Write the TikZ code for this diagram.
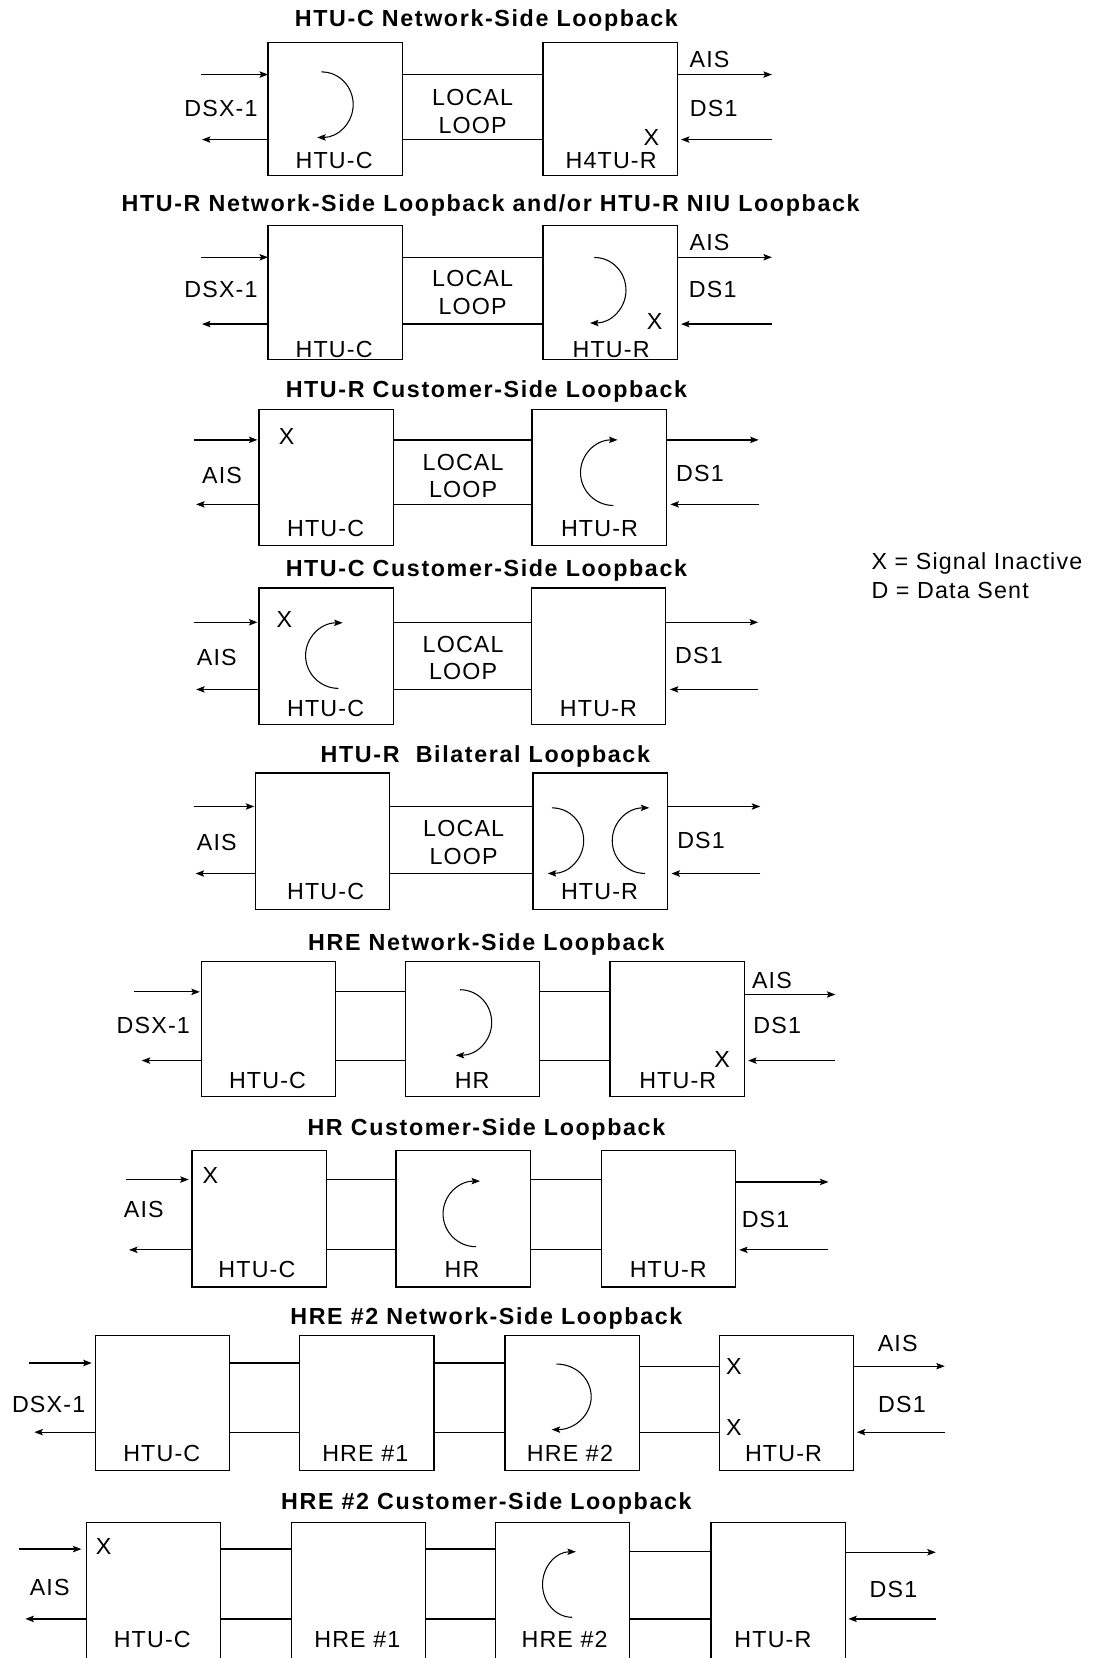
\documentclass[tikz,border=0pt]{standalone}
\usepackage{fontspec}
\setmainfont{Liberation Sans}
\newfontfamily\mylbfam[LetterSpace=5]{Liberation Sans}
\newfontfamily\myttfam[LetterSpace=7]{Liberation Sans}
\newcommand\mylbf{\mylbfam\fontsize{22}{26}\selectfont}
\newcommand\myttf{\myttfam\bfseries\fontsize{22}{26}\selectfont}
\usetikzlibrary{arrows.meta}
\tikzset{
  box/.style={draw, line width=1.2pt, minimum width=127pt, minimum height=128pt, inner sep=0pt, outer sep=0pt},
  lbl/.style={font=\mylbf, inner sep=0pt, anchor=base, yshift=-7.8pt},
  lgd/.style={font=\mylbf, inner sep=0pt, anchor=base west, yshift=-7.8pt},
  ttl/.style={font=\myttf, inner sep=0pt, anchor=base, yshift=-7.9pt},
  ln/.style={line width=1.2pt},
  sig/.style={line width=1.2pt, -{Stealth[length=8pt,width=6pt,inset=1.5pt]}},
  lp/.style={line width=1pt, -{Stealth[length=8pt,width=6pt,inset=1.5pt]}},
  loopR/.pic={\draw[lp] (1,-31) .. controls (18,-31) and (31,-17) .. (31,0) .. controls (31,17) and (17,31) .. (-3,31);},
  loopL/.pic={\draw[lp] (0,31) .. controls (-17,31) and (-31,17) .. (-31,0) .. controls (-31,-17) and (-17,-31) .. (4,-31);}
}
\begin{document}
\begin{tikzpicture}[x=1pt,y=-1pt]
\useasboundingbox (0,0) rectangle (1041,1568);

% ================= Panel 1
\node[ttl] (t1) at (460,17.6) {HTU-C Network-Side Loopback};
\node[box, minimum height=126pt] (a1) at (317,103) {};
\node[box, minimum height=126pt] (a2) at (577,103) {};
\coordinate (a-inl) at (190,70.5);
\coordinate (a-outl) at (191,132);
\coordinate (a-outr) at (730,70.5);
\coordinate (a-inr) at (730,132);
\draw[sig] (a-inl) -- (a1.west |- a-inl);
\draw[sig] (a1.west |- a-outl) -- (a-outl);
\draw[ln] (a1.east |- a-inl) -- (a2.west |- a-inl);
\draw[ln] (a1.east |- a-outl) -- (a2.west |- a-outl);
\draw[sig] (a2.east |- a-outr) -- (a-outr);
\draw[sig] (a-inr) -- ([xshift=3.5pt]a2.east |- a-inr);
\node[lbl] (a-dsx) at (209,102) {DSX-1};
\node[lbl] (a-ais) at (671,56) {AIS};
\node[lbl] (a-ds1) at (675,102) {DS1};
\node[lbl] (a-loc) at (447,92) {LOCAL};
\node[lbl] (a-lop) at (447,118) {LOOP};
\node[lbl] (a-l1) at (316,152) {HTU-C};
\node[lbl] (a-l2) at (578,152) {H4TU-R};
\node[lbl] (a-x) at (616,130) {X};
\pic at (303,99) {loopR};

% ================= Panel 2
\node[ttl] (t2) at (464,192.5) {HTU-R Network-Side Loopback and/or HTU-R NIU Loopback};
\node[box, minimum height=127pt] (b1) at (317,276.5) {};
\node[box, minimum height=127pt] (b2) at (577,276.5) {};
\coordinate (b-inl) at (190,243.3);
\coordinate (b-outl) at (191,306.5);
\coordinate (b-outr) at (730,243.3);
\coordinate (b-inr) at (730,306.5);
\draw[sig] (b-inl) -- (b1.west |- b-inl);
\draw[sig] (b1.west |- b-outl) -- (b-outl);
\draw[ln] (b1.east |- b-inl) -- (b2.west |- b-inl);
\draw[ln] (b1.east |- b-outl) -- (b2.west |- b-outl);
\draw[sig] (b2.east |- b-outr) -- (b-outr);
\draw[sig] (b-inr) -- ([xshift=3.5pt]b2.east |- b-inr);
\node[lbl] (b-dsx) at (209,273.5) {DSX-1};
\node[lbl] (b-ais) at (671,229.5) {AIS};
\node[lbl] (b-ds1) at (674,273.5) {DS1};
\node[lbl] (b-loc) at (447,263.5) {LOCAL};
\node[lbl] (b-lop) at (447,290) {LOOP};
\node[lbl] (b-l1) at (316,330.5) {HTU-C};
\node[lbl] (b-l2) at (578,330.5) {HTU-R};
\node[lbl] (b-x) at (619,304) {X};
\pic at (561,274.5) {loopR};

% ================= Panel 3
\node[ttl] (t3) at (460,368) {HTU-R Customer-Side Loopback};
\node[box, minimum height=129pt] (c1) at (308.5,451.5) {};
\node[box, minimum height=129pt] (c2) at (566.5,451.5) {};
\coordinate (c-inl) at (183.5,416);
\coordinate (c-outl) at (185.5,477);
\coordinate (c-outr) at (717.5,416);
\coordinate (c-inr) at (717.5,477);
\draw[sig] (c-inl) -- ([xshift=-1.5pt]c1.west |- c-inl);
\draw[sig] (c1.west |- c-outl) -- (c-outl);
\draw[ln] (c1.east |- c-inl) -- (c2.west |- c-inl);
\draw[ln] (c1.east |- c-outl) -- (c2.west |- c-outl);
\draw[sig] (c2.east |- c-outr) -- (c-outr);
\draw[sig] (c-inr) -- ([xshift=4pt]c2.east |- c-inr);
\node[lbl] (c-ais) at (210,449.5) {AIS};
\node[lbl] (c-ds1) at (662,447.5) {DS1};
\node[lbl] (c-loc) at (438,437) {LOCAL};
\node[lbl] (c-lop) at (438,463) {LOOP};
\node[lbl] (c-l1) at (308,500) {HTU-C};
\node[lbl] (c-l2) at (567,500) {HTU-R};
\node[lbl] (c-x) at (271,413) {X};
\pic at (580,447) {loopL};

% ================= Panel 4
\node[ttl] (t4) at (460,537) {HTU-C Customer-Side Loopback};
\node[box, minimum height=129pt] (d1) at (308.5,620.5) {};
\node[box, minimum height=129pt] (d2) at (566,620.5) {};
\coordinate (d-inl) at (183.5,588.5);
\coordinate (d-outl) at (185.5,652);
\coordinate (d-outr) at (717,588.5);
\coordinate (d-inr) at (717,652);
\draw[sig] (d-inl) -- ([xshift=-1.5pt]d1.west |- d-inl);
\draw[sig] (d1.west |- d-outl) -- (d-outl);
\draw[ln] (d1.east |- d-inl) -- (d2.west |- d-inl);
\draw[ln] (d1.east |- d-outl) -- (d2.west |- d-outl);
\draw[sig] (d2.east |- d-outr) -- (d-outr);
\draw[sig] (d-inr) -- ([xshift=4pt]d2.east |- d-inr);
\node[lbl] (d-ais) at (205,622) {AIS};
\node[lbl] (d-ds1) at (661,620) {DS1};
\node[lbl] (d-loc) at (438,609) {LOCAL};
\node[lbl] (d-lop) at (438,635) {LOOP};
\node[lbl] (d-l1) at (308,669.5) {HTU-C};
\node[lbl] (d-l2) at (566,669.5) {HTU-R};
\node[lbl] (d-x) at (269,586) {X};
\pic at (320,620) {loopL};

% ================= Panel 5
\node[ttl] (t5) at (459,713) {HTU-R\ \ Bilateral Loopback};
\node[box, minimum height=129pt] (e1) at (305,795.5) {};
\node[box, minimum height=129pt] (e2) at (567.5,795.5) {};
\coordinate (e-inl) at (183,762.7);
\coordinate (e-outl) at (185,826.1);
\coordinate (e-outr) at (719,762.7);
\coordinate (e-inr) at (719,826.1);
\draw[sig] (e-inl) -- ([xshift=-1pt]e1.west |- e-inl);
\draw[sig] (e1.west |- e-outl) -- (e-outl);
\draw[ln] (e1.east |- e-inl) -- (e2.west |- e-inl);
\draw[ln] (e1.east |- e-outl) -- (e2.west |- e-outl);
\draw[sig] (e2.east |- e-outr) -- (e-outr);
\draw[sig] (e-inr) -- ([xshift=4pt]e2.east |- e-inr);
\node[lbl] (e-ais) at (205,796.5) {AIS};
\node[lbl] (e-ds1) at (663,794.5) {DS1};
\node[lbl] (e-loc) at (438.5,783) {LOCAL};
\node[lbl] (e-lop) at (438.5,809.5) {LOOP};
\node[lbl] (e-l1) at (308,842.5) {HTU-C};
\node[lbl] (e-l2) at (567,842.5) {HTU-R};
\pic at (521,795) {loopR};
\pic at (610,795) {loopL};

% ================= Panel 6
\node[ttl] (t6) at (460,891) {HRE Network-Side Loopback};
\node[box] (f1) at (254,973) {};
\node[box] (f2) at (447,973) {};
\node[box] (f3) at (640.5,973) {};
\coordinate (f-inl) at (127,938);
\coordinate (f-outl) at (134,1003);
\coordinate (f-outr) at (790,940.5);
\coordinate (f-inr) at (790,1003);
\draw[sig] (f-inl) -- ([xshift=-1.5pt]f1.west |- f-inl);
\draw[sig] (f1.west |- f-outl) -- (f-outl);
\draw[ln] (f1.east |- f-inl) -- (f2.west |- f-inl);
\draw[ln] (f1.east |- f-outl) -- (f2.west |- f-outl);
\draw[ln] (f2.east |- f-inl) -- (f3.west |- f-inl);
\draw[ln] (f2.east |- f-outl) -- (f3.west |- f-outl);
\draw[sig] (f3.east |- f-outr) -- (f-outr);
\draw[sig] (f-inr) -- ([xshift=3.5pt]f3.east |- f-inr);
\node[lbl] (f-dsx) at (145,970) {DSX-1};
\node[lbl] (f-ais) at (730,927) {AIS};
\node[lbl] (f-ds1) at (735,970) {DS1};
\node[lbl] (f-l1) at (253,1021.5) {HTU-C};
\node[lbl] (f-l2) at (446.5,1021.5) {HR};
\node[lbl] (f-l3) at (641,1021.5) {HTU-R};
\node[lbl] (f-x) at (683,1002) {X};
\pic at (434,967) {loopR};

% ================= Panel 7
\node[ttl] (t7) at (460,1066) {HR Customer-Side Loopback};
\node[box, minimum height=129pt] (g1) at (245,1152.5) {};
\node[box, minimum height=129pt] (g2) at (438,1152.5) {};
\node[box, minimum height=129pt] (g3) at (632,1152.5) {};
\coordinate (g-inl) at (119,1115.5);
\coordinate (g-outl) at (122,1182);
\coordinate (g-outr) at (783.5,1117.8);
\coordinate (g-inr) at (783.5,1182);
\draw[sig] (g-inl) -- ([xshift=-3pt]g1.west |- g-inl);
\draw[sig] (g1.west |- g-outl) -- (g-outl);
\draw[ln] (g1.east |- g-inl) -- (g2.west |- g-inl);
\draw[ln] (g1.east |- g-outl) -- (g2.west |- g-outl);
\draw[ln] (g2.east |- g-inl) -- (g3.west |- g-inl);
\draw[ln] (g2.east |- g-outl) -- (g3.west |- g-outl);
\draw[sig] (g3.east |- g-outr) -- (g-outr);
\draw[sig] (g-inr) -- ([xshift=3.5pt]g3.east |- g-inr);
\node[lbl] (g-ais) at (136,1144) {AIS};
\node[lbl] (g-ds1) at (724,1153) {DS1};
\node[lbl] (g-l1) at (243,1200.5) {HTU-C};
\node[lbl] (g-l2) at (437,1200.5) {HR};
\node[lbl] (g-l3) at (632,1200.5) {HTU-R};
\node[lbl] (g-x) at (199,1111) {X};
\pic at (450,1148) {loopL};

% ================= Panel 8
\node[ttl] (t8) at (460,1245) {HRE \#2 Network-Side Loopback};
\node[box] (h1) at (153.8,1327) {};
\node[box] (h2) at (347,1327) {};
\node[box] (h3) at (541,1327) {};
\node[box] (h4) at (743.8,1327) {};
\coordinate (h-inl) at (27,1289);
\coordinate (h-outl) at (32.5,1354.4);
\coordinate (h-mid) at (680,1292);
\coordinate (h-outr) at (893.5,1292);
\coordinate (h-inr) at (893.5,1354.4);
\draw[sig] (h-inl) -- ([xshift=-3.5pt]h1.west |- h-inl);
\draw[sig] (h1.west |- h-outl) -- (h-outl);
\draw[ln] (h1.east |- h-inl) -- (h2.west |- h-inl);
\draw[ln] (h1.east |- h-outl) -- (h2.west |- h-outl);
\draw[ln] (h2.east |- h-inl) -- (h3.west |- h-inl);
\draw[ln] (h2.east |- h-outl) -- (h3.west |- h-outl);
\draw[ln] (h3.east |- h-mid) -- (h4.west |- h-mid);
\draw[ln] (h3.east |- h-outl) -- (h4.west |- h-outl);
\draw[sig] (h4.east |- h-outr) -- (h-outr);
\draw[sig] (h-inr) -- ([xshift=3pt]h4.east |- h-inr);
\node[lbl] (h-dsx) at (46,1328) {DSX-1};
\node[lbl] (h-ais) at (849,1270) {AIS};
\node[lbl] (h-ds1) at (853,1328) {DS1};
\node[lbl] (h-l1) at (153,1374) {HTU-C};
\node[lbl] (h-l2) at (345.5,1374) {HRE \#1};
\node[lbl] (h-l3) at (539,1374) {HRE \#2};
\node[lbl] (h-l4) at (741,1374) {HTU-R};
\node[lbl] (h-x1) at (694,1292) {X};
\node[lbl] (h-x2) at (694,1350) {X};
\pic[xscale=1.1] at (525,1321) {loopR};

% ================= Panel 9
\node[ttl] (t9) at (460,1420) {HRE \#2 Customer-Side Loopback};
\node[box, minimum height=140pt] (k1) at (145,1510) {};
\node[box, minimum height=140pt] (k2) at (339,1510) {};
\node[box, minimum height=140pt] (k3) at (532,1510) {};
\node[box, minimum height=140pt] (k4) at (735.8,1510) {};
\coordinate (k-inl) at (18,1465);
\coordinate (k-outl) at (24,1531);
\coordinate (k-mid) at (600,1467.5);
\coordinate (k-outr) at (885,1468);
\coordinate (k-inr) at (885,1531);
\draw[sig] (k-inl) -- ([xshift=-4.5pt]k1.west |- k-inl);
\draw[sig] (k1.west |- k-outl) -- (k-outl);
\draw[ln] (k1.east |- k-inl) -- (k2.west |- k-inl);
\draw[ln] (k1.east |- k-outl) -- (k2.west |- k-outl);
\draw[ln] (k2.east |- k-inl) -- (k3.west |- k-inl);
\draw[ln] (k2.east |- k-outl) -- (k3.west |- k-outl);
\draw[ln] (k3.east |- k-mid) -- (k4.west |- k-mid);
\draw[ln] (k3.east |- k-outl) -- (k4.west |- k-outl);
\draw[sig] (k4.east |- k-outr) -- (k-outr);
\draw[sig] (k-inr) -- ([xshift=3pt]k4.east |- k-inr);
\node[lbl] (k-ais) at (47,1501) {AIS};
\node[lbl] (k-ds1) at (845,1503) {DS1};
\node[lbl] (k-l1) at (144,1550.5) {HTU-C};
\node[lbl] (k-l2) at (338,1550.5) {HRE \#1};
\node[lbl] (k-l3) at (534,1550.5) {HRE \#2};
\node[lbl] (k-l4) at (731,1550.5) {HTU-R};
\node[lbl] (k-x) at (98,1462) {X};
\pic[xscale=0.9] at (541,1498.5) {loopL};

% ================= Legend
\node[lgd] (lg1) at (824,530.5) {X = Signal Inactive};
\node[lgd] (lg2) at (824,558.5) {D = Data Sent};
\end{tikzpicture}
\end{document}
